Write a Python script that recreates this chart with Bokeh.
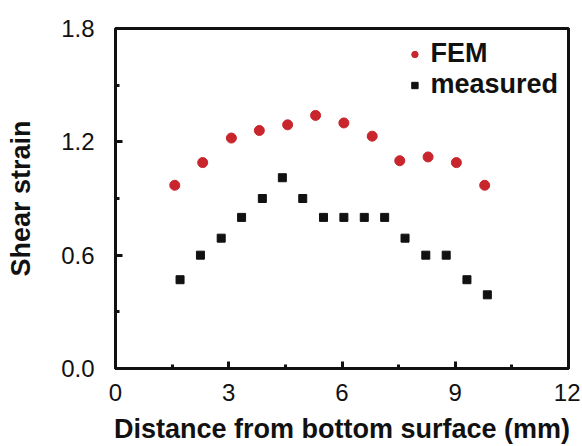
from bokeh.plotting import figure
from bokeh.models import FixedTicker, Legend, LegendItem, Range1d
from bokeh.embed import file_html
from bokeh.resources import INLINE

fem_x = [1.57, 2.31, 3.07, 3.81, 4.56, 5.30, 6.05, 6.80, 7.53, 8.28, 9.03, 9.78]
fem_y = [0.97, 1.09, 1.22, 1.26, 1.29, 1.34, 1.30, 1.23, 1.10, 1.12, 1.09, 0.97]

meas_x = [1.71, 2.25, 2.80, 3.34, 3.89, 4.42, 4.96, 5.51, 6.05, 6.59, 7.13, 7.67, 8.22, 8.76, 9.31, 9.85]
meas_y = [0.47, 0.60, 0.69, 0.80, 0.90, 1.01, 0.90, 0.80, 0.80, 0.80, 0.80, 0.69, 0.60, 0.60, 0.47, 0.39]

x_major = [0, 3, 6, 9, 12]
x_minor = [1.5, 4.5, 7.5, 10.5]
y_major = [0.0, 0.6, 1.2, 1.8]
y_minor = [0.3, 0.9, 1.5]

FONT = "Liberation Sans"

p = figure(width=580, height=446, output_backend="svg", toolbar_location=None,
           x_range=Range1d(0, 12), y_range=Range1d(0, 1.8))
p.min_border_left = 115
p.min_border_top = 28
p.min_border_right = 12
p.min_border_bottom = 76
p.grid.visible = False
p.background_fill_color = "white"
p.border_fill_color = "white"
p.outline_line_color = "#111111"
p.outline_line_width = 3

r1 = p.scatter(fem_x, fem_y, marker="circle", size=10, fill_color="#c9252c", line_color="#c9252c")
r2 = p.scatter(meas_x, meas_y, marker="square", size=8, fill_color="#111111", line_color="#111111")

for ax, maj, mino in ((p.xaxis[0], x_major, x_minor), (p.yaxis[0], y_major, y_minor)):
    ax.ticker = FixedTicker(ticks=maj, minor_ticks=mino)
    ax.axis_line_width = 3
    ax.axis_line_color = "#111111"
    ax.major_tick_in = 7
    ax.major_tick_out = 0
    ax.minor_tick_in = 4
    ax.minor_tick_out = 0
    ax.major_tick_line_width = 3
    ax.minor_tick_line_width = 3
    ax.major_tick_line_color = "#111111"
    ax.minor_tick_line_color = "#111111"
    ax.major_label_text_font = FONT
    ax.major_label_text_font_size = "24px"
    ax.major_label_text_color = "#111111"
    ax.axis_label_text_font = FONT
    ax.axis_label_text_font_style = "bold"
    ax.axis_label_text_font_size = "27px"
    ax.axis_label_text_color = "#111111"

p.yaxis[0].major_label_overrides = {0.0: "0.0", 0.6: "0.6", 1.2: "1.2", 1.8: "1.8"}
p.xaxis[0].major_label_standoff = 15
p.yaxis[0].major_label_standoff = 21
p.xaxis[0].axis_label = "Distance from bottom surface (mm)"
p.yaxis[0].axis_label = "Shear strain"
p.xaxis[0].axis_label_standoff = 10
p.yaxis[0].axis_label_standoff = 22

legend = Legend(items=[LegendItem(label="FEM", renderers=[r1]),
                       LegendItem(label="measured", renderers=[r2])],
                location="top_right")
legend.label_text_font = FONT
legend.label_text_font_style = "bold"
legend.label_text_font_size = "27px"
legend.label_text_color = "#111111"
legend.label_height = 28
legend.glyph_height = 28
legend.glyph_width = 16
legend.label_standoff = 8
legend.spacing = 0
legend.padding = 0
legend.margin = 10
legend.border_line_color = None
legend.background_fill_alpha = 0
p.add_layout(legend)

open("out.html", "w").write(file_html(p, INLINE))
